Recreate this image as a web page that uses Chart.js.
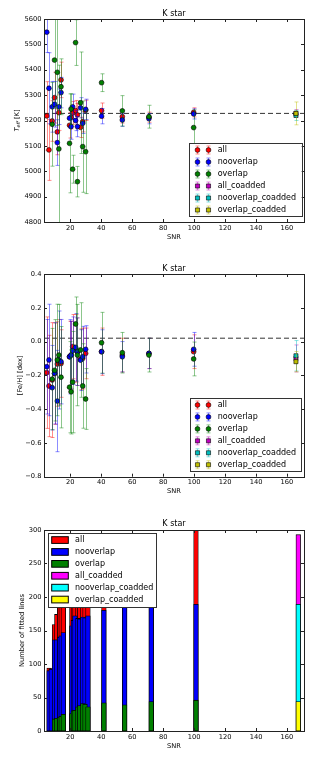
<!DOCTYPE html>
<html>
<head>
<meta charset="utf-8">
<script src="https://cdn.jsdelivr.net/npm/chart.js@4.4.1/dist/chart.umd.min.js"></script>
<style>
  body { margin: 0; background: #fff; }
  canvas { display: block; }
</style>
</head>
<body>
<canvas id="teffChart" width="332" height="253"></canvas>
<canvas id="fehChart" width="332" height="253"></canvas>
<canvas id="histChart" width="332" height="253"></canvas>
<script>
// --- data ---
const seriesNames = ['all', 'nooverlap', 'overlap', 'all_coadded', 'nooverlap_coadded', 'overlap_coadded'];

// SNR of the single spectra and of the coadded one
const snr = [4.8, 6.2, 8.3, 9.8, 11.6, 12.6, 14.0, 19.5, 20.5, 21.5, 23.4, 24.6, 26.6, 28.0, 29.9, 40.2, 53.6, 70.8, 99.7];
const snrCoadded = [165.8];

// Teff [K]
const teffAll = [5218, 5084, 5198, 5290, 5155, 5231, 5360, 5181, 5212, 5230, 5239, 5222, 5173, 5195, 5240, 5239, 5215, 5213, 5232];
const teffAllErr = [135, 120, 80, 100, 90, 70, 70, 50, 45, 45, 40, 45, 40, 40, 40, 30, 25, 20, 18];
const teffNoov = [5548, 5327, 5254, 5264, 5113, 5254, 5310, 5209, 5176, 5254, 5200, 5176, 5250, 5189, 5244, 5217, 5202, 5207, 5226];
const teffNoovErr = [80, 140, 100, 90, 90, 70, 60, 40, 50, 50, 40, 40, 40, 40, 40, 30, 25, 20, 20];
const teffOv = [null, null, 5185, 5438, 5390, 5088, 5333, 5110, 5245, 5008, 5507, 4959, 5270, 5097, 5077, 5349, 5238, 5215, 5172];
const teffOvErr = [null, null, 165, 190, 210, 330, 110, 195, 60, 55, 90, 60, 200, 180, 165, 35, 60, 45, 70];
const teffAllCo = [5228], teffAllCoErr = [15];
const teffNoovCo = [5220], teffNoovCoErr = [20];
const teffOvCo = [5228], teffOvCoErr = [45];
const teffRef = 5228;

// [Fe/H] [dex]
const fehAll = [-0.184, -0.263, -0.228, -0.190, -0.133, -0.120, -0.130, -0.090, -0.080, -0.030, -0.040, -0.060, -0.105, -0.100, -0.070, -0.060, -0.080, -0.070, -0.060];
const fehAllErr = [0.33, 0.30, 0.34, 0.30, 0.25, 0.25, 0.20, 0.21, 0.20, 0.19, 0.20, 0.20, 0.18, 0.18, 0.15, 0.14, 0.10, 0.09, 0.10];
const fehNoov = [-0.149, -0.109, -0.273, -0.188, -0.352, -0.109, -0.119, -0.090, -0.080, -0.054, -0.034, -0.060, -0.110, -0.090, -0.046, -0.060, -0.090, -0.070, -0.046];
const fehNoovErr = [0.28, 0.33, 0.25, 0.30, 0.30, 0.29, 0.25, 0.22, 0.20, 0.20, 0.20, 0.20, 0.18, 0.18, 0.14, 0.13, 0.09, 0.09, 0.10];
const fehOv = [null, null, -0.222, -0.170, -0.109, -0.080, -0.211, -0.270, -0.297, -0.240, 0.104, -0.080, -0.050, -0.263, -0.340, -0.007, -0.066, -0.080, -0.103];
const fehOvErr = [null, null, 0.30, 0.30, 0.33, 0.30, 0.30, 0.27, 0.25, 0.30, 0.16, 0.30, 0.28, 0.25, 0.18, 0.18, 0.12, 0.10, 0.10];
const fehAllCo = [-0.100], fehAllCoErr = [0.08];
const fehNoovCo = [-0.084], fehNoovCoErr = [0.09];
const fehOvCo = [-0.119], fehOvCoErr = [0.06];
const fehRef = 0.02;

// number of fitted lines
const histAll = [94, 93, 159, 174, 192, 198, 205, 205, 215, 210, 220, 210, 215, 205, 210, 225, 240, 235, 300];
const histNoov = [90, 92, 136, 136, 140, 142, 147, 157, 165, 172, 168, 167, 170, 169, 172, 180, 195, 200, 189];
const histOv = [null, null, 18, 19, 20, 22, 25, 26, 30, 31, 36, 38, 41, 40, 36, 42, 39, 44, 46];
const histAllCo = [293];
const histNoovCo = [189];
const histOvCo = [44];
const histBarWidth = 3; // in SNR units, bars start at the SNR value

// axes
const xMin = 3, xMax = 171;
const snrTicks = [20, 40, 60, 80, 100, 120, 140, 160];
const teffTicks = [4800, 4900, 5000, 5100, 5200, 5300, 5400, 5500, 5600];
const fehTicks = [-0.8, -0.6, -0.4, -0.2, 0.0, 0.2, 0.4];
const countTicks = [0, 50, 100, 150, 200, 250, 300];

Chart.defaults.font.family = '"DejaVu Sans", sans-serif';
Chart.defaults.color = '#000';

const pointColors = ['#ff0000', '#0000ff', '#008000', '#bf00bf', '#00bfbf', '#bfbf00'];
const barColors = ['#ff0000', '#0000ff', '#008000', '#ff00ff', '#00ffff', '#ffff00'];

function fade(hex, a) {
    const n = parseInt(hex.slice(1), 16);
    return `rgba(${(n >> 16) & 255}, ${(n >> 8) & 255}, ${n & 255}, ${a})`;
}

// --- plugins ---
const errorBars = {
    id: 'errorBars',
    beforeDatasetDraw(chart, args) {
        const ds = chart.data.datasets[args.index];
        if (!ds.errors) return;
        const { ctx, chartArea: a, scales: { x, y } } = chart;
        ctx.save();
        ctx.beginPath();
        ctx.rect(a.left, a.top, a.right - a.left, a.bottom - a.top);
        ctx.clip();
        ctx.strokeStyle = ds.errorColor;
        ctx.lineWidth = 1;
        ctx.beginPath();
        ds.data.forEach((p, i) => {
            const e = ds.errors[i];
            if (p.y === null || e === null) return;
            const px = Math.round(x.getPixelForValue(p.x)) + 0.5;
            const top = y.getPixelForValue(p.y + e);
            const bot = y.getPixelForValue(p.y - e);
            ctx.moveTo(px, top); ctx.lineTo(px, bot);
            ctx.moveTo(px - 2, top); ctx.lineTo(px + 2, top);
            ctx.moveTo(px - 2, bot); ctx.lineTo(px + 2, bot);
        });
        ctx.stroke();
        ctx.restore();
    }
};

// box around the axes with matplotlib style inward ticks
const frame = {
    id: 'frame',
    afterDatasetsDraw(chart) {
        const { ctx, chartArea: a, scales: { x, y } } = chart;
        ctx.save();
        ctx.strokeStyle = '#222';
        ctx.lineWidth = 1;
        ctx.beginPath();
        x.ticks.forEach(t => {
            const px = Math.round(x.getPixelForValue(t.value)) + 0.5;
            ctx.moveTo(px, a.bottom); ctx.lineTo(px, a.bottom - 3);
            ctx.moveTo(px, a.top); ctx.lineTo(px, a.top + 3);
        });
        y.ticks.forEach(t => {
            const py = Math.round(y.getPixelForValue(t.value)) + 0.5;
            ctx.moveTo(a.left, py); ctx.lineTo(a.left + 3, py);
            ctx.moveTo(a.right, py); ctx.lineTo(a.right - 3, py);
        });
        ctx.stroke();
        ctx.strokeRect(Math.round(a.left) + 0.5, Math.round(a.top) + 0.5,
            Math.round(a.right - a.left), Math.round(a.bottom - a.top));
        ctx.restore();
    }
};

// legend drawn inside the axes, like matplotlib
const boxLegend = {
    id: 'boxLegend',
    afterDraw(chart, args, o) {
        const { ctx } = chart;
        const items = chart.data.datasets.filter(d => d.label);
        ctx.save();
        ctx.fillStyle = '#fff';
        ctx.fillRect(o.left, o.top, o.width, o.height);
        ctx.strokeStyle = '#333';
        ctx.lineWidth = 1;
        ctx.strokeRect(Math.round(o.left) + 0.5, Math.round(o.top) + 0.5, Math.round(o.width), Math.round(o.height));
        ctx.font = '8px "DejaVu Sans"';
        ctx.textBaseline = 'middle';
        ctx.textAlign = 'left';
        items.forEach((d, i) => {
            const cy = o.top + o.firstRow + i * o.rowStep;
            if (o.kind === 'patch') {
                ctx.fillStyle = d.backgroundColor;
                ctx.fillRect(o.left + o.symbolX, cy - 3.3, 16.6, 6.7);
                ctx.strokeStyle = '#000';
                ctx.strokeRect(o.left + o.symbolX, cy - 3.3, 16.6, 6.7);
            } else {
                o.markerX.forEach(mx => {
                    const px = Math.round(o.left + mx) + 0.5;
                    ctx.strokeStyle = d.errorColor;
                    ctx.beginPath();
                    ctx.moveTo(px, cy - 4); ctx.lineTo(px, cy + 4);
                    ctx.moveTo(px - 2, cy - 4); ctx.lineTo(px + 2, cy - 4);
                    ctx.moveTo(px - 2, cy + 4); ctx.lineTo(px + 2, cy + 4);
                    ctx.stroke();
                    ctx.fillStyle = d.backgroundColor;
                    ctx.strokeStyle = '#000';
                    ctx.lineWidth = d.borderWidth;
                    Chart.helpers.drawPoint(ctx, { pointStyle: d.pointStyle, radius: d.pointRadius, borderWidth: d.borderWidth }, px, cy);
                    ctx.lineWidth = 1;
                });
            }
            ctx.fillStyle = '#000';
            ctx.fillText(d.label, o.left + o.textX, cy);
        });
        ctx.restore();
    }
};

// T_eff label with subscript
const teffLabel = {
    id: 'teffLabel',
    afterDraw(chart) {
        const { ctx, chartArea: a } = chart;
        const parts = [
            ['T', 'italic 6.7px "DejaVu Sans"', 0],
            ['eff', 'italic 4.8px "DejaVu Sans"', 1.6],
            [' [K]', '6.7px "DejaVu Sans"', 0]
        ];
        ctx.save();
        ctx.translate(17, (a.top + a.bottom) / 2);
        ctx.rotate(-Math.PI / 2);
        ctx.fillStyle = '#000';
        ctx.textBaseline = 'middle';
        ctx.textAlign = 'left';
        let w = 0;
        parts.forEach(p => { ctx.font = p[1]; w += ctx.measureText(p[0]).width; });
        let cx = -w / 2;
        parts.forEach(p => {
            ctx.font = p[1];
            ctx.fillText(p[0], cx, p[2]);
            cx += ctx.measureText(p[0]).width;
        });
        ctx.restore();
    }
};

// --- helpers ---
function errorSeries(i, xs, ys, errs, style, order) {
    return {
        type: 'scatter',
        label: seriesNames[i],
        order: order,
        data: xs.map((x, k) => ({ x: x, y: ys[k] })),
        errors: errs,
        errorColor: fade(pointColors[i], 0.45),
        backgroundColor: pointColors[i],
        borderColor: '#000',
        borderWidth: 0.6,
        pointStyle: style,
        pointRadius: style === 'rect' ? 2.9 : 2.4
    };
}

function refLine(value) {
    return {
        type: 'line',
        order: 10,
        data: [{ x: xMin, y: value }, { x: xMax, y: value }],
        borderColor: '#333',
        borderWidth: 1,
        borderDash: [5, 3],
        pointRadius: 0
    };
}

function histSeries(i, xs, vals, order) {
    return {
        label: seriesNames[i],
        order: order,
        data: xs.map((x, k) => ({ x: x + histBarWidth / 2, y: vals[k] })),
        backgroundColor: barColors[i]
    };
}

function xScale(height, titlePad) {
    return {
        type: 'linear', min: xMin, max: xMax, offset: false,
        grid: { display: false, drawTicks: false }, border: { display: false },
        afterBuildTicks: s => { s.ticks = snrTicks.map(v => ({ value: v })); },
        afterFit: s => { s.height = height; },
        ticks: { font: { size: 6.7 }, padding: 2, maxRotation: 0, autoSkip: false, callback: v => String(v) },
        title: { display: true, text: 'SNR', font: { size: 6.7 }, padding: { top: 0, bottom: titlePad } }
    };
}

function yScale(min, max, tickValues, format, title, titlePad) {
    return {
        type: 'linear', min: min, max: max,
        grid: { display: false, drawTicks: false }, border: { display: false },
        afterBuildTicks: s => { s.ticks = tickValues.map(v => ({ value: v })); },
        afterFit: s => { s.width = 44; },
        ticks: { font: { size: 6.7 }, padding: 2.5, autoSkip: false, callback: format },
        title: { display: !!title, text: title, font: { size: 6.7 }, padding: { top: titlePad, bottom: 0 } }
    };
}

function baseOptions(titlePad, legend) {
    return {
        responsive: false,
        animation: false,
        layout: { padding: { left: 0, right: 28, top: 0, bottom: 0 } },
        plugins: {
            legend: { display: false },
            tooltip: { enabled: false },
            title: { display: true, text: 'K star', fullSize: false, font: { size: 8, weight: 'normal' }, padding: titlePad },
            boxLegend: legend
        }
    };
}

const fehFormat = v => Math.abs(v) < 1e-9 ? '0.0' : (v < 0 ? '\u2212' : '') + Math.abs(v).toFixed(1);

// --- Teff ---
const teffOptions = baseOptions({ top: 9.1, bottom: 0.3 },
    { kind: 'errorbar', left: 189, top: 143.3, width: 112.7, height: 73.4, firstRow: 6.7, rowStep: 12, markerX: [7.7, 19.3], textX: 28.7 });
teffOptions.scales = {
    x: xScale(31, 11.5),
    y: yScale(4800, 5600, teffTicks, v => String(v), '', 0)
};
new Chart('teffChart', {
    type: 'scatter',
    data: {
        datasets: [
            errorSeries(0, snr, teffAll, teffAllErr, 'circle', 6),
            errorSeries(1, snr, teffNoov, teffNoovErr, 'circle', 5),
            errorSeries(2, snr, teffOv, teffOvErr, 'circle', 4),
            errorSeries(3, snrCoadded, teffAllCo, teffAllCoErr, 'rect', 3),
            errorSeries(4, snrCoadded, teffNoovCo, teffNoovCoErr, 'rect', 2),
            errorSeries(5, snrCoadded, teffOvCo, teffOvCoErr, 'rect', 1),
            refLine(teffRef)
        ]
    },
    options: teffOptions,
    plugins: [errorBars, frame, boxLegend, teffLabel]
});

// --- [Fe/H] ---
const fehOptions = baseOptions({ top: 11.1, bottom: 0.3 },
    { kind: 'errorbar', left: 190, top: 145.3, width: 110.7, height: 73.4, firstRow: 6.7, rowStep: 11.95, markerX: [6.7, 18.3], textX: 27.7 });
fehOptions.scales = {
    x: xScale(29.3, 10.5),
    y: yScale(-0.8, 0.4, fehTicks, fehFormat, '[Fe/H] [dex]', 16.3)
};
new Chart('fehChart', {
    type: 'scatter',
    data: {
        datasets: [
            errorSeries(0, snr, fehAll, fehAllErr, 'circle', 6),
            errorSeries(1, snr, fehNoov, fehNoovErr, 'circle', 5),
            errorSeries(2, snr, fehOv, fehOvErr, 'circle', 4),
            errorSeries(3, snrCoadded, fehAllCo, fehAllCoErr, 'rect', 3),
            errorSeries(4, snrCoadded, fehNoovCo, fehNoovCoErr, 'rect', 2),
            errorSeries(5, snrCoadded, fehOvCo, fehOvCoErr, 'rect', 1),
            refLine(fehRef)
        ]
    },
    options: fehOptions,
    plugins: [errorBars, frame, boxLegend]
});

// --- number of lines ---
const histOptions = baseOptions({ top: 13.1, bottom: 1.3 },
    { kind: 'patch', left: 48.3, top: 27.3, width: 108.4, height: 74, firstRow: 6.7, rowStep: 11.9, symbolX: 3.4, textX: 26.7 });
histOptions.scales = {
    x: xScale(28, 8.5),
    y: yScale(0, 300, countTicks, v => String(v), 'Number of fitted lines', 18)
};
histOptions.datasets = {
    bar: { grouped: false, barThickness: 4.64, borderWidth: 0.8, borderColor: '#000', borderSkipped: false }
};
new Chart('histChart', {
    type: 'bar',
    data: {
        datasets: [
            histSeries(0, snr, histAll, 6),
            histSeries(1, snr, histNoov, 5),
            histSeries(2, snr, histOv, 4),
            histSeries(3, snrCoadded, histAllCo, 3),
            histSeries(4, snrCoadded, histNoovCo, 2),
            histSeries(5, snrCoadded, histOvCo, 1)
        ]
    },
    options: histOptions,
    plugins: [frame, boxLegend]
});
</script>
</body>
</html>
